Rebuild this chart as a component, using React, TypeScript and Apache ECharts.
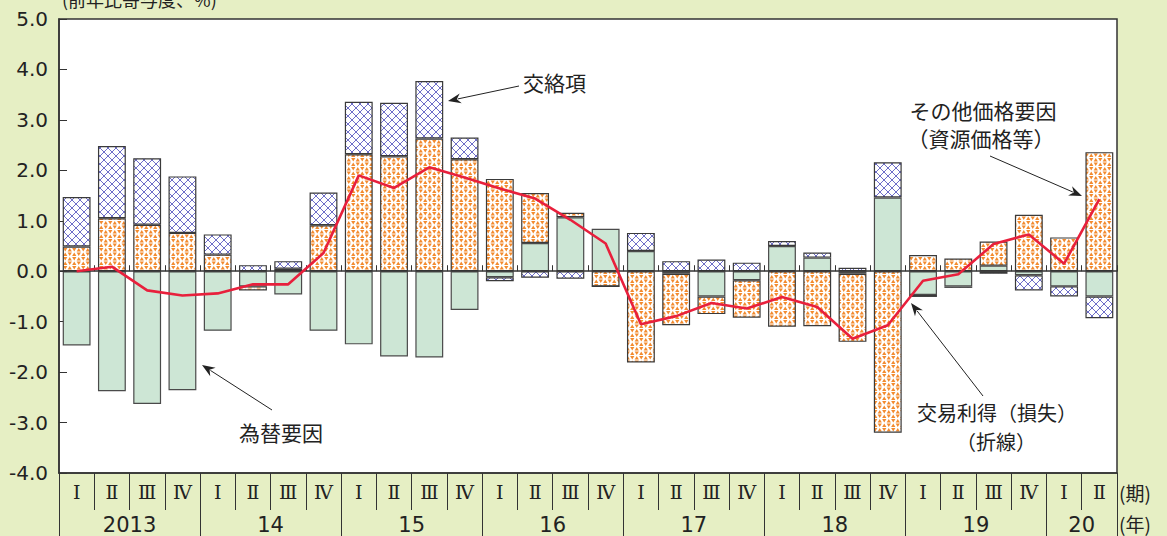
import React, { useEffect, useRef } from "react";
import * as echarts from "echarts";

// ---- data ----
const quarterLabels = [
  "Ⅰ", "Ⅱ", "Ⅲ", "Ⅳ", "Ⅰ", "Ⅱ", "Ⅲ", "Ⅳ", "Ⅰ", "Ⅱ", "Ⅲ", "Ⅳ",
  "Ⅰ", "Ⅱ", "Ⅲ", "Ⅳ", "Ⅰ", "Ⅱ", "Ⅲ", "Ⅳ", "Ⅰ", "Ⅱ", "Ⅲ", "Ⅳ",
  "Ⅰ", "Ⅱ", "Ⅲ", "Ⅳ", "Ⅰ", "Ⅱ",
];
const yearLabels = ["2013", "14", "15", "16", "17", "18", "19", "20"];
const quartersPerYear = [4, 4, 4, 4, 4, 4, 4, 2];

// 為替要因
const exchangeRate = [
  -1.47, -2.38, -2.63, -2.36, -1.18, -0.30, -0.46, -1.18,
  -1.45, -1.69, -1.71, -0.77, -0.12, 0.56, 1.07, 0.84,
  0.40, -0.05, -0.50, -0.18, 0.50, 0.27, -0.05, 1.46,
  -0.47, -0.30, 0.11, -0.08, -0.30, -0.50,
];
// その他価格要因（資源価格等）
const otherPrice = [
  0.49, 1.05, 0.92, 0.76, 0.33, -0.08, 0.05, 0.91,
  2.32, 2.28, 2.63, 2.22, 1.83, 0.99, 0.09, -0.30,
  -1.81, -1.02, -0.35, -0.74, -1.10, -1.09, -1.35, -3.20,
  0.32, 0.25, 0.48, 1.12, 0.67, 2.36,
];
// 交絡項
const crossTerm = [
  0.98, 1.43, 1.32, 1.12, 0.40, 0.12, 0.15, 0.65,
  1.04, 1.06, 1.14, 0.43, -0.08, -0.13, -0.15, 0.0,
  0.36, 0.20, 0.23, 0.17, 0.10, 0.10, 0.07, 0.70,
  -0.04, -0.03, -0.05, -0.30, -0.20, -0.43,
];
// 交易利得（損失）
const tradeGain = [
  0.00, 0.09, -0.38, -0.48, -0.44, -0.26, -0.26, 0.36,
  1.90, 1.65, 2.06, 1.86, 1.64, 1.44, 1.02, 0.55,
  -1.05, -0.89, -0.63, -0.74, -0.51, -0.71, -1.34, -1.07,
  -0.19, -0.06, 0.54, 0.73, 0.15, 1.43,
];
const yMin = -4;
const yMax = 5;
const yInterval = 1;

const CJK = "'Noto Sans CJK JP', 'Noto Sans', sans-serif";
const NUM = "'DejaVu Sans', 'Liberation Sans', sans-serif";
const ROMAN = "'DejaVu Serif', 'Noto Sans CJK JP', serif";
const TEXT = "#222";
const AXIS = "#333";

function trianglePattern(): HTMLCanvasElement {
  const c = document.createElement("canvas");
  c.width = 9;
  c.height = 9;
  const g = c.getContext("2d")!;
  g.fillStyle = "#ffffff";
  g.fillRect(0, 0, 9, 9);
  g.fillStyle = "#f28a2e";
  const tri = (cx: number, top: number, bottom: number, up: boolean) => {
    g.beginPath();
    if (up) {
      g.moveTo(cx, top);
      g.lineTo(cx + 2.1, bottom);
      g.lineTo(cx - 2.1, bottom);
    } else {
      g.moveTo(cx - 2.1, top);
      g.lineTo(cx + 2.1, top);
      g.lineTo(cx, bottom);
    }
    g.closePath();
    g.fill();
  };
  tri(2.25, 0.5, 4.0, true);
  tri(6.75, 0.5, 4.0, false);
  tri(2.25, 5.0, 8.5, false);
  tri(6.75, 5.0, 8.5, true);
  return c;
}

function crossPattern(): HTMLCanvasElement {
  const c = document.createElement("canvas");
  c.width = 8;
  c.height = 8;
  const g = c.getContext("2d")!;
  g.fillStyle = "#ffffff";
  g.fillRect(0, 0, 8, 8);
  g.strokeStyle = "#6e6ec8";
  g.lineWidth = 1;
  g.beginPath();
  g.moveTo(0, 0);
  g.lineTo(8, 8);
  g.moveTo(8, 0);
  g.lineTo(0, 8);
  g.stroke();
  return c;
}

function arrow(x1: number, y1: number, x2: number, y2: number): any[] {
  const a = Math.atan2(y2 - y1, x2 - x1);
  const L = 13;
  const W = 5;
  const cs = Math.cos(a);
  const sn = Math.sin(a);
  const bx = x2 - L * cs;
  const by = y2 - L * sn;
  const px = -sn * W;
  const py = cs * W;
  return [
    {
      type: "line",
      shape: { x1, y1, x2: bx + 3 * cs, y2: by + 3 * sn },
      style: { stroke: TEXT, lineWidth: 1 },
      z: 10,
    },
    {
      type: "polygon",
      shape: {
        points: [
          [x2, y2],
          [bx + px, by + py],
          [bx + 4 * cs, by + 4 * sn],
          [bx - px, by - py],
        ],
      },
      style: { fill: TEXT },
      z: 10,
    },
  ];
}

function label(text: string, x: number, y: number, align: string = "left", size = 21): any {
  return {
    type: "text",
    x,
    y,
    z: 10,
    style: {
      text,
      fill: TEXT,
      font: `${size}px ${CJK}`,
      align,
      verticalAlign: "middle",
    },
  };
}

export default function App() {
  const ref = useRef<HTMLDivElement>(null);

  useEffect(() => {
    if (!ref.current) return;
    const chart = echarts.init(ref.current, undefined, { renderer: "svg" });

    const tickValues: number[] = [0];
    const centerValues: number[] = [];
    let acc = 0;
    quartersPerYear.forEach((n) => {
      centerValues.push(acc + n / 2);
      acc += n;
      tickValues.push(acc);
    });

    const barBase = {
      type: "bar",
      stack: "total",
      barWidth: "79%",
      xAxisIndex: 0,
      yAxisIndex: 0,
    };

    const option: any = {
      animation: false,
      backgroundColor: "transparent",
      grid: {
        left: 59,
        right: 50,
        top: 19,
        bottom: 63,
        show: true,
        backgroundColor: "#ffffff",
        borderColor: AXIS,
        borderWidth: 1.5,
        containLabel: false,
        outerBoundsMode: "none",
      },
      xAxis: [
        {
          type: "category",
          data: quarterLabels,
          position: "bottom",
          axisLine: { show: true, onZero: true, lineStyle: { color: AXIS, width: 1.6 } },
          axisTick: { show: true, inside: true, length: 6, lineStyle: { color: AXIS, width: 1 } },
          axisLabel: { show: false },
          splitLine: { show: false },
          z: 5,
        },
        {
          type: "category",
          data: quarterLabels,
          position: "bottom",
          axisLine: { show: true, onZero: false, lineStyle: { color: AXIS, width: 1.5 } },
          axisTick: { show: true, inside: false, length: 37, lineStyle: { color: AXIS, width: 1 } },
          axisLabel: {
            show: true,
            interval: 0,
            margin: 9,
            color: TEXT,
            fontFamily: ROMAN,
            fontSize: 19,
          },
          splitLine: { show: false },
        },
        {
          type: "value",
          min: 0,
          max: quarterLabels.length,
          position: "bottom",
          axisLine: { show: false, onZero: false },
          axisTick: {
            show: true,
            inside: false,
            length: 63,
            customValues: tickValues,
            lineStyle: { color: AXIS, width: 1 },
          },
          axisLabel: {
            show: true,
            customValues: centerValues,
            margin: 41,
            color: TEXT,
            fontFamily: NUM,
            fontSize: 21,
            formatter: (v: number) => {
              const i = centerValues.indexOf(v);
              return i >= 0 ? yearLabels[i] : "";
            },
          },
          splitLine: { show: false },
        },
      ],
      yAxis: {
        type: "value",
        min: yMin,
        max: yMax,
        interval: yInterval,
        axisLine: { show: true, lineStyle: { color: AXIS, width: 1.5 } },
        axisTick: { show: true, inside: true, length: 8, lineStyle: { color: AXIS, width: 1 } },
        axisLabel: {
          margin: 11,
          color: TEXT,
          fontFamily: NUM,
          fontSize: 20,
          formatter: (v: number) => v.toFixed(1),
        },
        splitLine: { show: false },
      },
      series: [
        {
          ...barBase,
          name: "為替要因",
          data: exchangeRate,
          itemStyle: { color: "#cde6d5", borderColor: "#4a4a4a", borderWidth: 1.2 },
        },
        {
          ...barBase,
          name: "その他価格要因",
          data: otherPrice,
          itemStyle: {
            color: { image: trianglePattern(), repeat: "repeat" },
            borderColor: "#3a3a3a",
            borderWidth: 1.2,
          },
        },
        {
          ...barBase,
          name: "交絡項",
          data: crossTerm,
          itemStyle: {
            color: { image: crossPattern(), repeat: "repeat" },
            borderColor: "#3a3a3a",
            borderWidth: 1.2,
          },
        },
        {
          type: "line",
          name: "交易利得（損失）",
          data: tradeGain,
          xAxisIndex: 0,
          yAxisIndex: 0,
          symbol: "none",
          z: 6,
          lineStyle: { color: "#e8203c", width: 2.6 },
        },
      ],
      graphic: [
        {
          type: "text",
          x: 62,
          y: -10,
          style: { text: "(前年比寄与度、%)", fill: TEXT, font: `18px ${CJK}` },
        },
        label("交絡項", 523, 82),
        ...arrow(519, 86, 448, 101),
        label("為替要因", 239, 432),
        ...arrow(272, 410, 202, 365),
        label("その他価格要因", 983, 110, "center"),
        label("（資源価格等）", 981, 138, "center"),
        ...arrow(990, 156, 1082, 196),
        label("交易利得（損失）", 997, 412, "center", 20),
        label("（折線）", 996, 441, "center", 20),
        ...arrow(983, 396, 911, 303),
        {
          type: "text",
          x: 1119,
          y: 492,
          style: { text: "(期)", fill: TEXT, font: `19px ${CJK}`, verticalAlign: "middle" },
        },
        {
          type: "text",
          x: 1119,
          y: 523,
          style: { text: "(年)", fill: TEXT, font: `19px ${CJK}`, verticalAlign: "middle" },
        },
      ],
    };

    chart.setOption(option);
    return () => chart.dispose();
  }, []);

  return (
    <div
      ref={ref}
      style={{
        position: "fixed",
        left: 0,
        top: 0,
        width: 1167,
        height: 536,
        background: "#e6efc4",
      }}
    />
  );
}
